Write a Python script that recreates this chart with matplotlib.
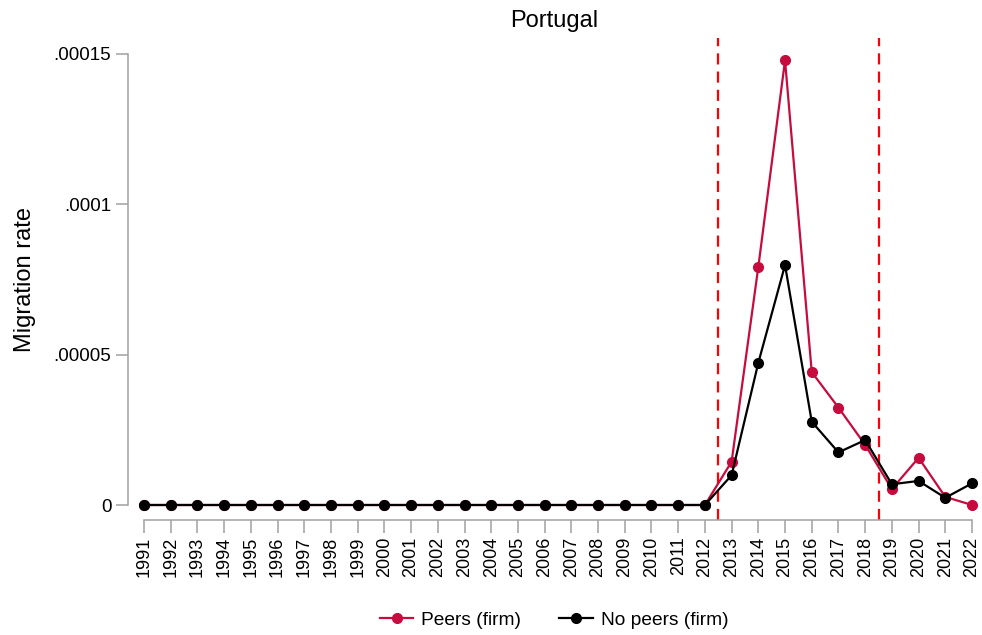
import matplotlib.pyplot as plt
import numpy as np

plt.rcParams['font.family'] = ['Liberation Sans', 'DejaVu Sans']

years = list(range(1991, 2023))
peers = [0.0] * 22 + [1.44e-5, 7.92e-5, 1.479e-4, 4.42e-5, 3.24e-5, 2.0e-5,
                      0.53e-5, 1.57e-5, 0.27e-5, 0.0]
no_peers = [0.0] * 22 + [0.99e-5, 4.73e-5, 7.98e-5, 2.77e-5, 1.75e-5, 2.16e-5,
                         0.69e-5, 0.8e-5, 0.24e-5, 0.72e-5]
policy_lines = [2012.5, 2018.5]
yticks = [0, 0.00005, 0.0001, 0.00015]
ytick_labels = ['0', '.00005', '.0001', '.00015']

fig = plt.figure(figsize=(9.82, 6.35), dpi=100)
W, H = 982, 635
# axes in pixel coordinates
left, right, top, bottom = 128, 980, 38, 520
ax = fig.add_axes([left / W, 1 - bottom / H, (right - left) / W, (bottom - top) / H])

# pixel mapping: 1991 -> 144, 2022 -> 972 ; 0 -> 505, .00015 -> 54
px_per_year = (972 - 144) / 31
ax.set_xlim(1991 - (144 - left) / px_per_year, 2022 + (right - 972) / px_per_year)
val_per_px = 0.00015 / (505 - 54)
ax.set_ylim(-(bottom - 505) * val_per_px, (505 - top) * val_per_px)

red = '#C60C3E'
ax.plot(years, peers, color=red, marker='o', markersize=7, lw=1.6,
        label='Peers (firm)', zorder=3)
ax.plot(years, no_peers, color='black', marker='o', markersize=7, lw=1.6,
        label='No peers (firm)', zorder=4)
for x in policy_lines:
    ax.axvline(x, color='#FF0000', ls=(0, (5, 3.2)), lw=1.6, zorder=2)

for s in ['top', 'right']:
    ax.spines[s].set_visible(False)
ax.spines['left'].set_bounds(0, 0.00015)
ax.spines['bottom'].set_bounds(1991, 2022)
for s in ['left', 'bottom']:
    ax.spines[s].set_color('#A0A0A0')
    ax.spines[s].set_linewidth(1.1)

ax.set_xticks(years)
ax.set_xticklabels([str(y) for y in years], rotation=90, fontsize=13)
ax.set_yticks(yticks)
ax.set_yticklabels(ytick_labels, fontsize=13.5)
ax.tick_params(axis='both', color='#A0A0A0', length=9, width=1.1, pad=3)

ax.set_ylabel('Migration rate', fontsize=17, labelpad=13)
ax.set_title('Portugal', fontsize=17, pad=8)

ax.legend(loc='center', bbox_to_anchor=(0.5, (bottom - 620) / (bottom - top)),
          ncol=2, frameon=False, fontsize=13.8, handlelength=1.75,
          handletextpad=0.4, columnspacing=2.0)

fig.savefig('out.png', dpi=100)
